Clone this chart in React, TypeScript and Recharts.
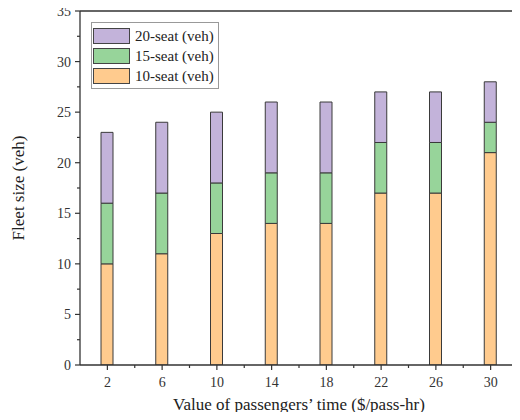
import { BarChart, Bar, XAxis, YAxis, Legend, ReferenceLine } from 'recharts';

const passengerTime = [2, 6, 10, 14, 18, 22, 26, 30];
const seat10 = [10, 11, 13, 14, 14, 17, 17, 21];
const seat15 = [6, 6, 5, 5, 5, 5, 5, 3];
const seat20 = [7, 7, 7, 7, 7, 5, 5, 4];

const xMajor = [2, 6, 10, 14, 18, 22, 26, 30];
const xMinor = [4, 8, 12, 16, 20, 24, 28];
const yMajor = [0, 5, 10, 15, 20, 25, 30, 35];
const yMinor = [2.5, 7.5, 12.5, 17.5, 22.5, 27.5, 32.5];

const data = passengerTime.map((t, i) => ({ t, s10: seat10[i], s15: seat15[i], s20: seat20[i] }));

const FONT = '"Liberation Serif", "DejaVu Serif", serif';
const INK = '#333';

function XTick({ x, y, payload }: any) {
  const major = xMajor.includes(payload.value);
  return (
    <g>
      <line x1={x} y1={y} x2={x} y2={y + (major ? 5 : 3)} stroke={INK} strokeWidth={1.2} />
      {major && (
        <text x={x} y={y + 22} textAnchor="middle" fontSize={14} fill="#333" fontFamily={FONT}>
          {payload.value}
        </text>
      )}
    </g>
  );
}

function YTick({ x, y, payload }: any) {
  const major = yMajor.includes(payload.value);
  return (
    <g>
      <line x1={x} y1={y} x2={x - (major ? 5 : 3)} y2={y} stroke={INK} strokeWidth={1.2} />
      {major && (
        <text x={x - 9} y={y + 5} textAnchor="end" fontSize={14} fill="#333" fontFamily={FONT}>
          {payload.value}
        </text>
      )}
    </g>
  );
}

function LegendBox({ payload }: any) {
  const items = [...(payload || [])].reverse();
  return (
    <div style={{ border: '1px solid #999', background: '#fff', padding: '3px 4px 2px 1px', fontFamily: FONT, fontSize: 15, color: '#222' }}>
      {items.map((it: any) => (
        <div key={it.value} style={{ display: 'flex', alignItems: 'center', height: 20 }}>
          <span style={{ width: 37, height: 16, background: it.color, border: '1px solid #444', marginRight: 5, boxSizing: 'border-box' }} />
          <span>{it.value}</span>
        </div>
      ))}
    </div>
  );
}

export default function App() {
  return (
    <div style={{ margin: -8, width: 520, height: 420 }}>
      <BarChart width={520} height={420} data={data} margin={{ top: 11, right: 2, left: 28, bottom: 25 }}>
        <XAxis
          dataKey="t"
          type="number"
          domain={[0, 32]}
          allowDataOverflow
          ticks={[...xMajor, ...xMinor].sort((a, b) => a - b)}
          interval={0}
          tickSize={0}
          tickMargin={0}
          tickLine={false}
          tick={<XTick />}
          height={30}
          axisLine={{ stroke: INK, strokeWidth: 1.3 }}
          label={{
            content: ({ viewBox }: any) => (
              <text x={viewBox.x + viewBox.width / 2} y={viewBox.y + 45} textAnchor="middle" fontSize={17} fill="#222" fontFamily={FONT}>
                Value of passengers’ time ($/pass-hr)
              </text>
            ),
          }}
        />
        <YAxis
          type="number"
          domain={[0, 35]}
          allowDataOverflow
          ticks={[...yMajor, ...yMinor].sort((a, b) => a - b)}
          interval={0}
          tickSize={0}
          tickMargin={0}
          tickLine={false}
          tick={<YTick />}
          width={52}
          axisLine={{ stroke: INK, strokeWidth: 1.3 }}
          label={{
            content: ({ viewBox }: any) => {
              const cx = viewBox.x - 10;
              const cy = viewBox.y + viewBox.height / 2;
              return (
                <text x={cx} y={cy} transform={`rotate(-90 ${cx} ${cy})`} textAnchor="middle" dominantBaseline="central" fontSize={17} fill="#222" fontFamily={FONT}>
                  Fleet size (veh)
                </text>
              );
            },
          }}
        />
        <ReferenceLine y={35} stroke={INK} strokeWidth={1.3} />
        <ReferenceLine x={32} stroke={INK} strokeWidth={1.3} />
        <Legend
          layout="horizontal"
          verticalAlign="middle"
          align="center"
          content={<LegendBox />}
          wrapperStyle={{ left: 91, top: 22, width: 'auto' }}
        />
        <Bar dataKey="s10" name="10-seat (veh)" stackId="a" fill="#FFCB8E" stroke="#3a3a3a" strokeWidth={1} barSize={12} isAnimationActive={false} />
        <Bar dataKey="s15" name="15-seat (veh)" stackId="a" fill="#97D49A" stroke="#3a3a3a" strokeWidth={1} barSize={12} isAnimationActive={false} />
        <Bar dataKey="s20" name="20-seat (veh)" stackId="a" fill="#C3B3DA" stroke="#3a3a3a" strokeWidth={1} barSize={12} isAnimationActive={false} />
      </BarChart>
    </div>
  );
}
